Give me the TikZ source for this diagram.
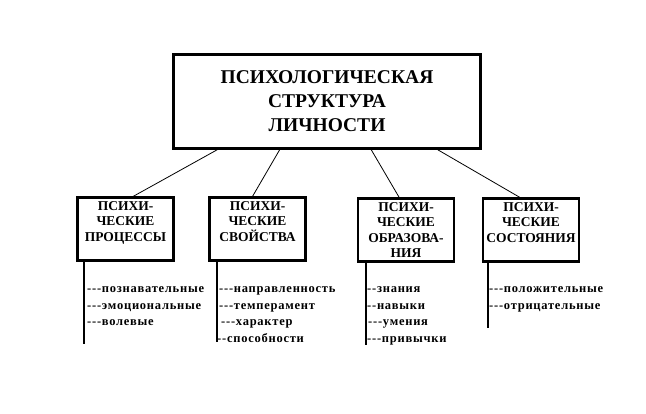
\documentclass[tikz,border=0pt]{standalone}
\usepackage{fontspec}
\setmainfont{Liberation Serif}
\newfontfamily\listfont[LetterSpace=6, BoldFont={Liberation Serif Bold}]{Liberation Serif}
\usetikzlibrary{positioning,calc}

\begin{document}
\begin{tikzpicture}[x = 1pt, y = -1pt,
  topbox/.style = {draw, line width = 2.6pt, minimum width = 307pt, minimum height = 94pt,
                   inner sep = 0pt, align = center, font = \fontsize{19.5}{24}\selectfont\bfseries},
  subbox/.style = {draw, line width = 2.4pt, minimum width = 96pt, minimum height = 63pt,
                   inner sep = 0pt, align = center, font = \fontsize{13.5}{15.5}\selectfont\bfseries},
  link/.style = {line width = 0.8pt},
  stem/.style = {line width = 1.1pt},
  listitem/.style = {anchor = base west, inner sep = 0pt, font = \listfont\fontsize{12.5}{14}\selectfont\bfseries}]
              \useasboundingbox (0,0) rectangle (646,413);
              % top box
              \node [topbox] (psych) at (327,101.5) {ПСИХОЛОГИЧЕСКАЯ\\ СТРУКТУРА\\ ЛИЧНОСТИ};
              % four boxes
              \node [subbox] (proc) at (125.5,229) {ПСИХИ-\\ ЧЕСКИЕ\\ ПРОЦЕССЫ\\ \mbox{}};
              \node [subbox] (svoi) at (257.5,229) {ПСИХИ-\\ ЧЕСКИЕ\\ СВОЙСТВА\\ \mbox{}};
              \node [subbox] (obraz) at (406,230) {ПСИХИ-\\ ЧЕСКИЕ\\ ОБРАЗОВА-\\ НИЯ};
              \node [subbox] (sost) at (531,230) {ПСИХИ-\\ ЧЕСКИЕ\\ СОСТОЯНИЯ\\ \mbox{}};
              % links from top
              \draw [link] ($(psych.south west)!0.145!(psych.south east)$) -- ($(proc.north west)!0.58!(proc.north east)$);
              \draw [link] ($(psych.south west)!0.347!(psych.south east)$) -- ($(svoi.north west)!0.45!(svoi.north east)$);
              \draw [link] ($(psych.south west)!0.643!(psych.south east)$) -- ($(obraz.north west)!0.43!(obraz.north east)$);
              \draw [link] ($(psych.south west)!0.858!(psych.south east)$) -- ($(sost.north west)!0.385!(sost.north east)$);
              % stems
              \coordinate (procEnd) at (84,344);
              \coordinate (svoiEnd) at (217,342);
              \coordinate (obrazEnd) at (366,345);
              \coordinate (sostEnd) at (488,328);
              \draw [stem] (procEnd |- proc.south) -- (procEnd);
              \draw [stem] (svoiEnd |- svoi.south) -- (svoiEnd);
              \draw [stem] (obrazEnd |- obraz.south) -- (obrazEnd);
              \draw [stem] (sostEnd |- sost.south) -- (sostEnd);
              % lists
              \node [listitem] (proc1) at (87,292) {-{}-{}-познавательные};
              \node [listitem] (proc2) at (87,309) {-{}-{}-эмоциональные};
              \node [listitem] (proc3) at (87,325) {-{}-{}-волевые};
              \node [listitem] (svoi1) at (219,292) {-{}-{}-направленность};
              \node [listitem] (svoi2) at (219,309) {-{}-{}-темперамент};
              \node [listitem] (svoi3) at (221,325) {-{}-{}-характер};
              \node [listitem] (svoi4) at (217,342) {-{}-способности};
              \node [listitem] (obraz1) at (367,292) {-{}-знания};
              \node [listitem] (obraz2) at (367,309) {-{}-навыки};
              \node [listitem] (obraz3) at (368,325) {-{}-{}-умения};
              \node [listitem] (obraz4) at (367,342) {-{}-{}-привычки};
              \node [listitem] (sost1) at (489,292) {-{}-{}-положительные};
              \node [listitem] (sost2) at (489,309) {-{}-{}-отрицательные};
            \end{tikzpicture}
\end{document}
